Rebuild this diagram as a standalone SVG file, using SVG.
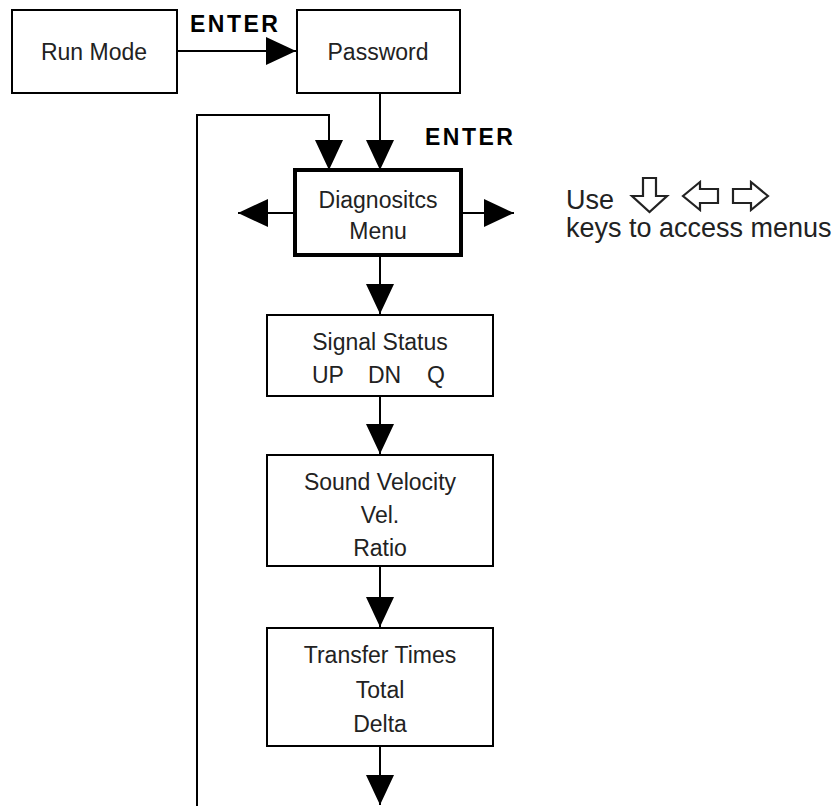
<svg xmlns="http://www.w3.org/2000/svg" width="840" height="806" viewBox="0 0 840 806">
<style>
  .box { fill: #fff; stroke: #000; stroke-width: 2; }
  .thick { fill: #fff; stroke: #000; stroke-width: 4; }
  .t { font-family: "Liberation Sans", Arial, sans-serif; font-size: 23px; fill: #222; text-anchor: middle; }
  .lbl { font-family: "Liberation Sans", Arial, sans-serif; font-size: 23px; font-weight: bold; fill: #000; letter-spacing: 2.5px; }
  .note { font-family: "Liberation Sans", Arial, sans-serif; font-size: 27px; fill: #222; }
  .line { fill: none; stroke: #000; stroke-width: 2; marker-end: url(#ah); }
  .key { fill: #fff; stroke: #222; stroke-width: 2.2; stroke-linejoin: miter; }
</style>
<defs>
  <marker id="ah" markerUnits="userSpaceOnUse" markerWidth="30" markerHeight="28" refX="30" refY="14" orient="auto" viewBox="0 0 30 28">
    <path d="M0,0 L30,14 L0,28 z" fill="#000"/>
  </marker>
</defs>
<rect width="840" height="806" fill="#fff"/>

<g id="connectors">
  <line class="line" x1="177" y1="51" x2="296" y2="51"/>
  <line class="line" x1="380" y1="93" x2="380" y2="170"/>
  <polyline class="line" points="197,806 197,115 329,115 329,170"/>
  <line class="line" x1="295" y1="213" x2="238" y2="213"/>
  <line class="line" x1="461" y1="213" x2="514" y2="213"/>
  <line class="line" x1="380" y1="255" x2="380" y2="314"/>
  <line class="line" x1="380" y1="396" x2="380" y2="454"/>
  <line class="line" x1="380" y1="566" x2="380" y2="627"/>
  <line class="line" x1="380" y1="746" x2="380" y2="805"/>
  <text class="lbl" x="190" y="32">ENTER</text>
  <text class="lbl" x="425" y="145">ENTER</text>
</g>

<g id="run-mode">
  <rect class="box" x="12" y="10" width="165" height="83"/>
  <text class="t" x="94" y="60">Run Mode</text>
</g>

<g id="password">
  <rect class="box" x="297" y="10" width="163" height="83"/>
  <text class="t" x="378" y="60">Password</text>
</g>

<g id="diagnostics-menu">
  <rect class="thick" x="295" y="170" width="166" height="85"/>
  <text class="t" x="378" y="208">Diagnositcs</text>
  <text class="t" x="378" y="239">Menu</text>
</g>

<g id="signal-status">
  <rect class="box" x="267" y="315" width="226" height="81"/>
  <text class="t" x="380" y="350">Signal Status</text>
  <text class="t" style="text-anchor:start"><tspan x="312" y="383">UP</tspan><tspan x="368" y="383">DN</tspan><tspan x="427" y="383">Q</tspan></text>
</g>

<g id="sound-velocity">
  <rect class="box" x="267" y="455" width="226" height="111"/>
  <text class="t" x="380" y="490">Sound Velocity</text>
  <text class="t" x="380" y="523">Vel.</text>
  <text class="t" x="380" y="556">Ratio</text>
</g>

<g id="transfer-times">
  <rect class="box" x="267" y="628" width="226" height="118"/>
  <text class="t" x="380" y="663">Transfer Times</text>
  <text class="t" x="380" y="698">Total</text>
  <text class="t" x="380" y="732">Delta</text>
</g>

<g id="key-note">
  <text class="note" x="566" y="209">Use</text>
  <polygon class="key" points="643,178 656,178 656,196 667,196 649.5,212 632,196 643,196"/>
  <polygon class="key" points="683,196 700,182 700,189 718,189 718,203 700,203 700,210"/>
  <polygon class="key" points="768,196 751,182 751,189 733,189 733,203 751,203 751,210"/>
  <text class="note" x="566" y="237">keys to access menus</text>
</g>
</svg>
